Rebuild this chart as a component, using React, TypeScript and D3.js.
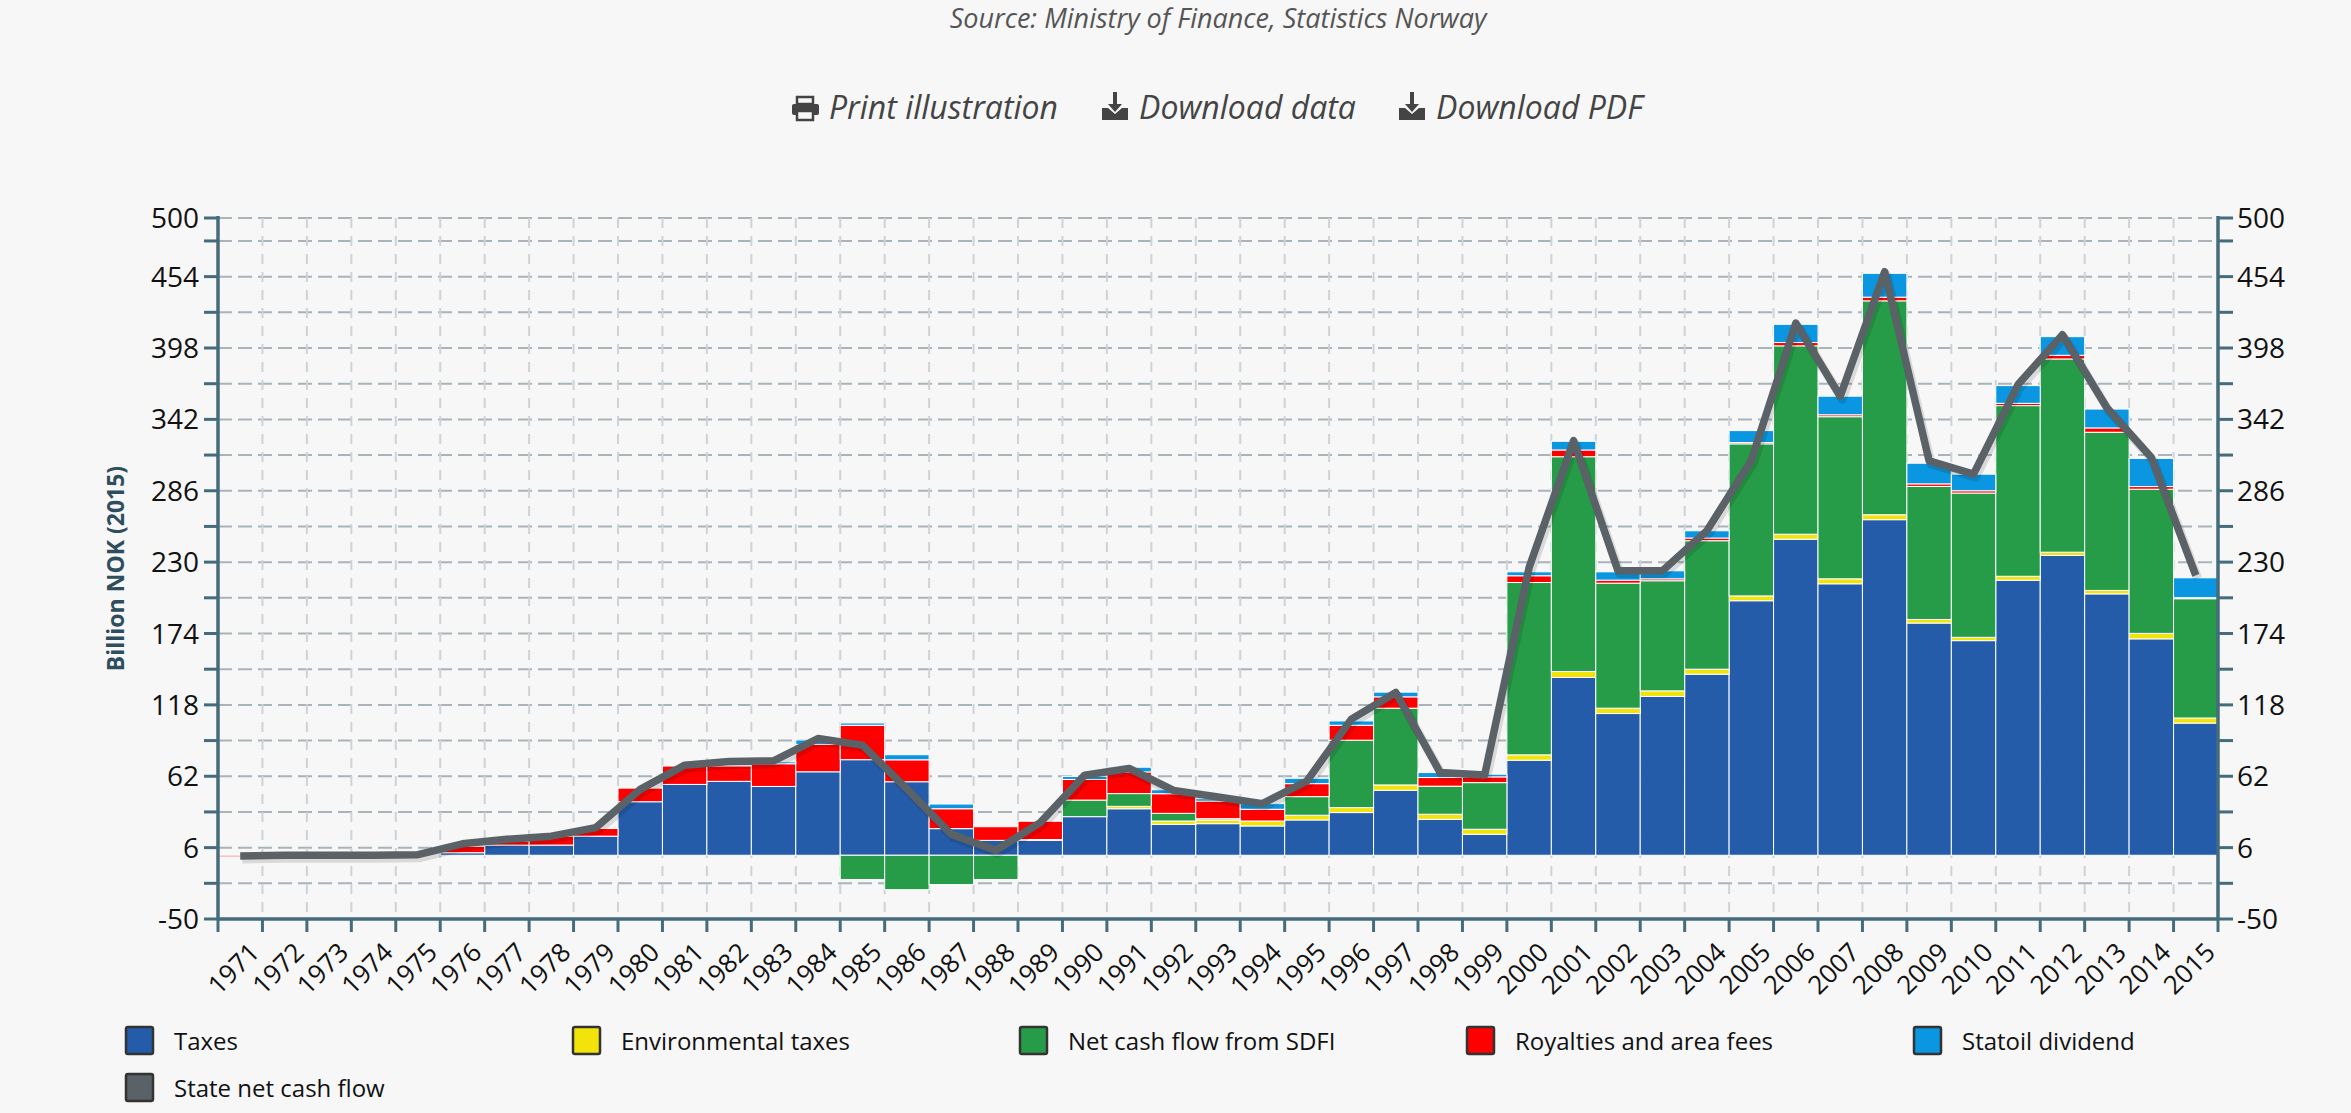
import React, { useEffect, useRef } from 'react';
import * as d3 from 'd3';

// categories
const years = [
  '1971', '1972', '1973', '1974', '1975', '1976', '1977', '1978', '1979', '1980',
  '1981', '1982', '1983', '1984', '1985', '1986', '1987', '1988', '1989', '1990',
  '1991', '1992', '1993', '1994', '1995', '1996', '1997', '1998', '1999', '2000',
  '2001', '2002', '2003', '2004', '2005', '2006', '2007', '2008', '2009', '2010',
  '2011', '2012', '2013', '2014', '2015',
];

// series, billion NOK (2015)
const taxes = [
  0.8, 0, 0, 0, 0, 2, 8, 8, 15, 42,
  55.6, 58, 54, 65.5, 75, 57.7, 20.9, 11.7, 11.7, 30.3,
  36.5, 24.3, 24.8, 23, 27.7, 33.5, 51, 28.2, 16.5, 74.6,
  139.5, 111.2, 124.6, 142.1, 199.7, 248, 213, 263.3, 182.2, 168.4,
  215.8, 235.2, 205.1, 169.8, 103.7,
];
const envTaxes = [
  0, 0, 0, 0, 0, 0, 0, 0, 0, 0,
  0, 0, 0, 0, 0, 0, 0, 0, 0, 0,
  1.9, 2.6, 2.9, 3.9, 3.7, 3.9, 4.2, 4, 3.9, 4.2,
  4.7, 4.2, 4.4, 3.9, 3.8, 3.9, 3.9, 3.9, 2.8, 2.6,
  3.1, 2.6, 2.7, 4.3, 4,
];
const sdfi = [
  0, 0, 0, 0, 0, 0, 0, 0, 0, 0,
  0, 0, 0, 0, -19, -27, -23, -19, 0.6, 13,
  10, 6, 1, 0, 14.6, 52.9, 60.2, 22, 36.6, 135.2,
  168.5, 98.1, 86.4, 100.8, 119.3, 147.8, 127.2, 167.8, 104.4, 113.2,
  133.9, 151.6, 124.1, 113.1, 93.6,
];
const royalties = [
  -1.2, 0, 0, 0, 0, 5, 3, 7, 6, 10.7,
  14.4, 12, 17.8, 21.5, 27, 17.2, 15.6, 10.7, 14.4, 16.2,
  17, 15.4, 13.8, 9.2, 10.2, 11.7, 8.9, 6.8, 4.5, 5.3,
  5.3, 2.4, 1.5, 2.1, 1, 2.6, 1.5, 2.9, 2, 1.8,
  1.8, 2.9, 3.4, 2.1, 0.8,
];
const statoil = [
  0, 0, 0, 0, 0, 0, 0, 0, 0, 0,
  0, 0, 1.5, 3.5, 1.8, 4, 3.7, 0, 0, 2.4,
  3.7, 3.1, 1.8, 4.4, 4.2, 3.4, 3.7, 3.9, 2.1, 3.1,
  6.8, 6.5, 6.3, 5.7, 9.4, 14.3, 14.6, 18.7, 16.2, 13,
  13.9, 14.6, 14.8, 22.1, 15.6,
];
const netCashFlow = [
  -0.5, 0, 0, 0, 0.5, 9, 12.5, 15, 21.7, 51.7,
  70.7, 73.5, 74, 91.6, 86.4, 52, 16.4, 3.9, 25.6, 62.9,
  68.1, 50.9, 45.7, 40.5, 58.3, 106.8, 127.7, 64.9, 63, 225.8,
  325.3, 223.2, 223.2, 254.6, 310, 417.5, 360.2, 457.9, 309.4, 299,
  369.3, 408.4, 351.1, 312, 219.6,
];

// y axis ticks (every other one labelled, plus the max)
const yTicks = [-50, -22, 6, 34, 62, 90, 118, 146, 174, 202, 230, 258, 286, 314, 342, 370, 398, 426, 454, 482, 500];
const yLabels = [-50, 6, 62, 118, 174, 230, 286, 342, 398, 454, 500];

const seriesNames = ['Taxes', 'Environmental taxes', 'Net cash flow from SDFI', 'Royalties and area fees', 'Statoil dividend'];
const seriesColors = ['#255caa', '#f2e30b', '#279c48', '#ff0000', '#0a96e0'];
const lineName = 'State net cash flow';
const lineColor = '#5a6167';

const W = 2351;
const H = 1113;
const FONT = "'Open Sans', sans-serif";

const App = () => {
  const svgRef = useRef(null);

  useEffect(() => {
    document.body.style.margin = '0';
    document.body.style.background = '#f7f7f7';

    const svg = d3.select(svgRef.current);
    svg.selectAll('*').remove();

    const left = 218;
    const right = 2218;
    const top = 218;
    const bottom = 919;
    const axisColor = '#456c7c';

    const x = d3.scaleBand().domain(years).range([left, right]).padding(0);
    const y = d3.scaleLinear().domain([-50, 500]).range([bottom, top]);

    svg.append('rect').attr('width', W).attr('height', H).attr('fill', '#f7f7f7');

    // header texts
    svg.append('text')
      .attr('x', 1218).attr('y', 28)
      .attr('text-anchor', 'middle')
      .attr('font-family', FONT).attr('font-style', 'italic')
      .attr('font-size', 27).attr('fill', '#555')
      .text('Source: Ministry of Finance, Statistics Norway');

    const tools = svg.append('g').attr('fill', '#444');
    // printer icon
    tools.append('rect').attr('x', 797).attr('y', 97).attr('width', 16).attr('height', 7).attr('fill', 'none').attr('stroke', '#444').attr('stroke-width', 2.5);
    tools.append('rect').attr('x', 792).attr('y', 104).attr('width', 27).attr('height', 11).attr('rx', 2);
    tools.append('rect').attr('x', 797).attr('y', 111).attr('width', 16).attr('height', 9).attr('fill', '#f7f7f7').attr('stroke', '#444').attr('stroke-width', 2.5);
    // download icons
    [1102, 1399].forEach((ix) => {
      tools.append('path').attr('d', `M${ix + 11},92 h4 v12 h5 l-7,8 l-7,-8 h5 z`);
      tools.append('path').attr('d', `M${ix},108 h6 l7,6 l7,-6 h6 v12 h-26 z`);
    });
    const toolTexts = [
      { x: 829, t: 'Print illustration' },
      { x: 1139, t: 'Download data' },
      { x: 1436, t: 'Download PDF' },
    ];
    toolTexts.forEach((d) => {
      svg.append('text')
        .attr('x', d.x).attr('y', 119)
        .attr('font-family', FONT).attr('font-style', 'italic')
        .attr('font-size', 32).attr('fill', '#444')
        .text(d.t);
    });

    // grid
    const grid = svg.append('g');
    grid.selectAll('line.h')
      .data(yTicks)
      .enter().append('line')
      .attr('x1', left).attr('x2', right)
      .attr('y1', (d) => y(d)).attr('y2', (d) => y(d))
      .attr('stroke', '#a9b3ba').attr('stroke-width', 2)
      .attr('stroke-dasharray', '14,6');
    const bounds = years.map((yr) => x(yr) as number).slice(1);
    grid.selectAll('line.v')
      .data(bounds)
      .enter().append('line')
      .attr('x1', (d) => d).attr('x2', (d) => d)
      .attr('y1', top).attr('y2', bottom)
      .attr('stroke', '#cdd3d7').attr('stroke-width', 2)
      .attr('stroke-dasharray', '10,8');

    // stacked bars
    const rows = years.map((yr, i) => ({
      year: yr,
      s0: taxes[i],
      s1: envTaxes[i],
      s2: sdfi[i],
      s3: royalties[i],
      s4: statoil[i],
    }));
    const keys = ['s0', 's1', 's2', 's3', 's4'];
    const stack = d3.stack().keys(keys).offset(d3.stackOffsetDiverging);
    const layers = stack(rows as any);

    svg.append('g')
      .selectAll('g')
      .data(layers)
      .enter().append('g')
      .attr('fill', (d, i) => seriesColors[i])
      .selectAll('rect')
      .data((d: any) => d)
      .enter().append('rect')
      .attr('x', (d: any) => x(d.data.year) as number)
      .attr('width', x.bandwidth())
      .attr('y', (d: any) => y(Math.max(d[0], d[1])))
      .attr('height', (d: any) => Math.abs(y(d[0]) - y(d[1])))
      .attr('stroke', '#ffffff')
      .attr('stroke-width', (d: any) => (Math.abs(d[1] - d[0]) > 0.01 ? 1 : 0));

    // state net cash flow line
    const line = d3.line<number>()
      .x((d, i) => (x(years[i]) as number) + x.bandwidth() / 2)
      .y((d) => y(d));
    svg.append('path')
      .datum(netCashFlow)
      .attr('d', line)
      .attr('transform', 'translate(2,3)')
      .attr('fill', 'none')
      .attr('stroke', '#000').attr('stroke-opacity', 0.12)
      .attr('stroke-width', 9).attr('stroke-linejoin', 'round');
    svg.append('path')
      .datum(netCashFlow)
      .attr('d', line)
      .attr('fill', 'none')
      .attr('stroke', lineColor)
      .attr('stroke-width', 7.5)
      .attr('stroke-linejoin', 'round');

    // axes
    const axes = svg.append('g').attr('stroke', axisColor);
    axes.append('line').attr('x1', left).attr('x2', left).attr('y1', top - 2).attr('y2', bottom + 1).attr('stroke-width', 3.5);
    axes.append('line').attr('x1', right).attr('x2', right).attr('y1', top - 2).attr('y2', bottom + 1).attr('stroke-width', 3.5);
    axes.append('line').attr('x1', left).attr('x2', right).attr('y1', bottom).attr('y2', bottom).attr('stroke-width', 3.5);
    yTicks.forEach((t) => {
      axes.append('line').attr('x1', left - 14).attr('x2', left).attr('y1', y(t)).attr('y2', y(t)).attr('stroke-width', 3);
      axes.append('line').attr('x1', right).attr('x2', right + 15).attr('y1', y(t)).attr('y2', y(t)).attr('stroke-width', 3);
    });
    [left, ...bounds, right].forEach((b) => {
      axes.append('line').attr('x1', b).attr('x2', b).attr('y1', bottom).attr('y2', bottom + 13).attr('stroke-width', 3);
    });

    const labels = svg.append('g').attr('font-family', FONT).attr('font-size', 28).attr('fill', '#111');
    yLabels.forEach((t) => {
      labels.append('text').attr('x', left - 19).attr('y', y(t)).attr('dy', '0.36em').attr('text-anchor', 'end').text(t);
      labels.append('text').attr('x', right + 19).attr('y', y(t)).attr('dy', '0.36em').attr('text-anchor', 'start').text(t);
    });
    years.forEach((yr) => {
      const cx = (x(yr) as number) + x.bandwidth() / 2;
      labels.append('text')
        .attr('transform', `translate(${cx + 8},${bottom + 22}) rotate(-45)`)
        .attr('text-anchor', 'end')
        .attr('dy', '0.7em')
        .attr('font-size', 26)
        .text(yr);
    });

    // y axis title
    svg.append('text')
      .attr('transform', `translate(124,${(top + bottom) / 2}) rotate(-90)`)
      .attr('text-anchor', 'middle')
      .attr('font-family', FONT).attr('font-weight', 'bold')
      .attr('font-size', 23).attr('fill', '#2e4d5d')
      .text('Billion NOK (2015)');

    // legend
    const legendItems = [
      ...seriesNames.map((n, i) => ({ name: n, color: seriesColors[i], col: i, row: 0 })),
      { name: lineName, color: lineColor, col: 0, row: 1 },
    ];
    const legend = svg.append('g').attr('font-family', FONT);
    legendItems.forEach((d) => {
      const lx = 126 + d.col * 447;
      const ly = 1027 + d.row * 47;
      legend.append('rect')
        .attr('x', lx).attr('y', ly).attr('width', 27).attr('height', 27).attr('rx', 2)
        .attr('fill', d.color).attr('stroke', '#333').attr('stroke-width', 2.5);
      legend.append('text')
        .attr('x', lx + 48).attr('y', ly + 23)
        .attr('font-size', 24).attr('fill', '#111')
        .text(d.name);
    });
  }, []);

  return <svg ref={svgRef} width={W} height={H} style={{ position: 'absolute', left: 0, top: 0 }}></svg>;
};

export default App;
